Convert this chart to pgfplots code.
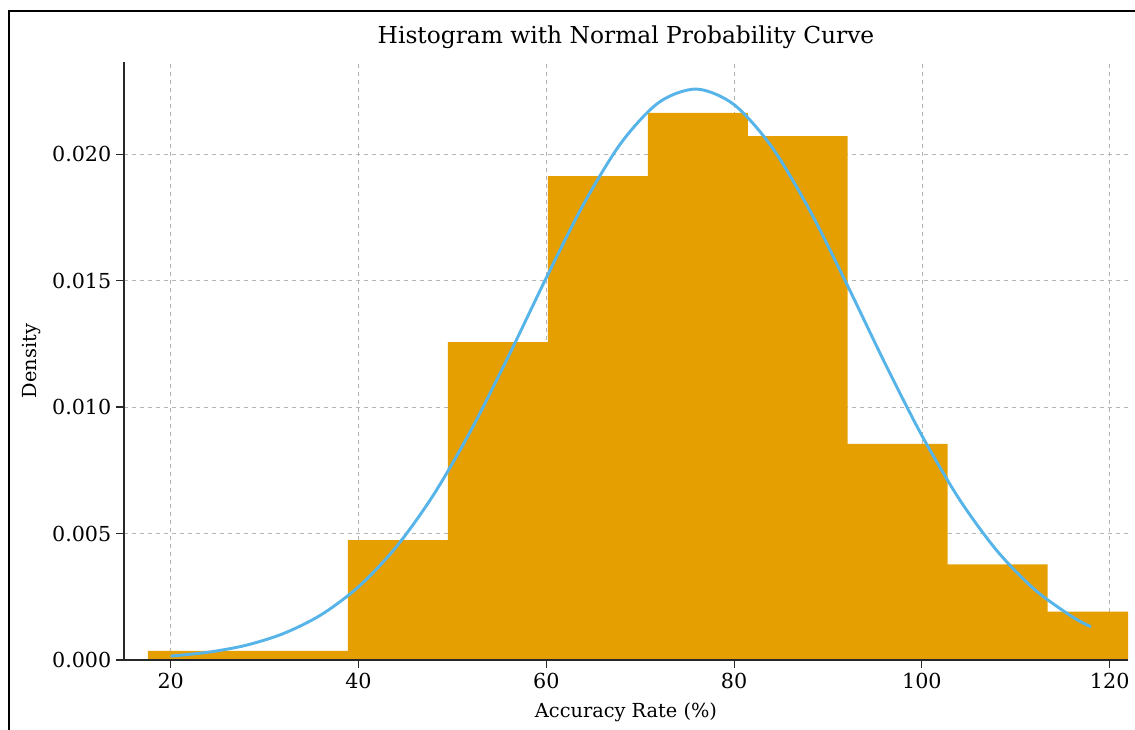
\documentclass[border=0pt]{standalone}
\usepackage{fontspec}
\setmainfont{DejaVu Serif}
\usepackage{pgfplots}
\pgfplotsset{compat=1.18}

\definecolor{barorange}{RGB}{230,159,0}
\definecolor{curveblue}{RGB}{86,180,233}
\definecolor{gridgray}{RGB}{180,180,180}
\definecolor{spine}{RGB}{40,40,40}

\begin{document}
\begin{tikzpicture}[x=1pt,y=1pt]
% figure size in pt: 1 px of the reference = 0.75pt
\useasboundingbox (-93,-52.5) rectangle (758.25,495);
\draw[line width=1.5pt] (-86.25,-52.5) -- (-86.25,486.75) -- (758.25,486.75);

\begin{axis}[
    at={(0,0)}, anchor=south west,
    scale only axis,
    width=753pt, height=448.5pt,
    xmin=15.03, xmax=121.95,
    ymin=0, ymax=0.02364,
    axis lines*=left,
    axis line style={spine, line width=1pt},
    xtick={20,40,60,80,100,120},
    ytick={0,0.005,0.010,0.015,0.020},
    scaled y ticks=false,
    yticklabel style={/pgf/number format/.cd, fixed, fixed zerofill, precision=3},
    /pgf/number format/assume math mode=true,
    tick align=outside,
    major tick length=6pt,
    tick style={spine, line width=0.8pt},
    ticklabel style={font=\fontsize{15.5}{18}\selectfont},
    grid=major,
    grid style={dashed, gridgray, line width=0.5pt},
    title={Histogram with Normal Probability Curve},
    title style={at={(axis description cs:0.5,1.028)}, anchor=center,
                 font=\fontsize{17.5}{20}\selectfont},
    xlabel={Accuracy Rate (\%)},
    xlabel style={at={(axis description cs:0.5,-0.087)}, anchor=center,
                  font=\fontsize{14.5}{17}\selectfont},
    ylabel={Density},
    ylabel style={at={(axis description cs:-0.0916,0.5)}, anchor=center,
                  font=\fontsize{14.5}{17}\selectfont},
]

% histogram (density), bin edges and heights
\addplot[ybar interval, fill=barorange, draw=none] coordinates {
    (17.58, 0.000356)
    (28.23, 0.000356)
    (38.87, 0.00474)
    (49.52, 0.01257)
    (60.16, 0.01913)
    (70.81, 0.02163)
    (81.46, 0.02071)
    (92.10, 0.00854)
    (102.75, 0.00378)
    (113.39, 0.00191)
    (124.04, 0.00191)
};

% fitted normal curve
\addplot[curveblue, line width=2.2pt, smooth] coordinates {
    (20, 0.000154) (24, 0.000307) (28, 0.000580) (32, 0.001044)
    (36, 0.001782) (40, 0.002892) (44, 0.004459) (48, 0.006533)
    (52, 0.009093) (56, 0.012026) (60, 0.015108) (64, 0.018037)
    (68, 0.020457) (72, 0.022044) (76, 0.022569) (80, 0.021954)
    (84, 0.020290) (88, 0.017816) (92, 0.014863) (96, 0.011782)
    (100, 0.008872) (104, 0.006348) (108, 0.004316) (112, 0.002787)
    (116, 0.001711) (118, 0.001315)
};

% bottom spine drawn again over the bars
\draw[spine, line width=1pt] (rel axis cs:0,0) -- (rel axis cs:1,0);

\end{axis}
\end{tikzpicture}
\end{document}
